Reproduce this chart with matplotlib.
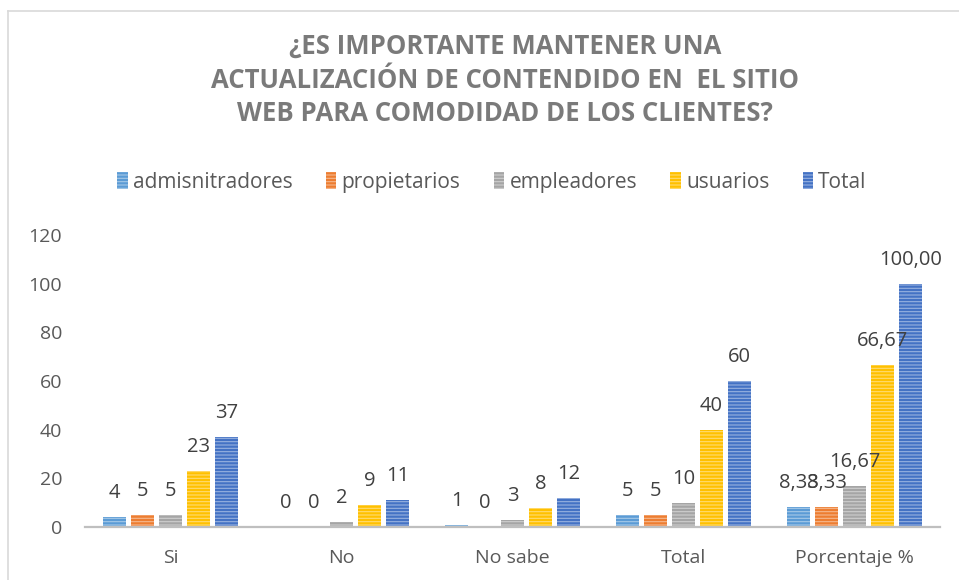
import matplotlib
matplotlib.use("Agg")
import matplotlib.pyplot as plt
import numpy as np
from matplotlib.patches import Patch
from matplotlib.lines import Line2D
from matplotlib.colors import to_rgb

plt.rcParams['font.family'] = ['Open Sans', 'DejaVu Sans']
plt.rcParams['hatch.linewidth'] = 0.8

categories = ["Si", "No", "No sabe", "Total", "Porcentaje %"]
series_names = ["admisnitradores", "propietarios", "empleadores", "usuarios", "Total"]
admin = [4, 0, 1, 5, 8.33]
propietarios = [5, 0, 0, 5, 8.33]
empleadores = [5, 2, 3, 10, 16.67]
usuarios = [23, 9, 8, 40, 66.67]
total = [37, 11, 12, 60, 100.00]
colors = ["#5B9BD5", "#ED7D31", "#A5A5A5", "#FFC000", "#4472C4"]
title = ("¿ES IMPORTANTE MANTENER UNA\n"
         "ACTUALIZACIÓN DE CONTENDIDO EN  EL SITIO\n"
         "WEB PARA COMODIDAD DE LOS CLIENTES?")

series = [admin, propietarios, empleadores, usuarios, total]


def lighten(c, f=0.45):
    r, g, b = to_rgb(c)
    return (r + (1 - r) * f, g + (1 - g) * f, b + (1 - b) * f)


fig = plt.figure(figsize=(9.59, 5.80), dpi=100)
ax = fig.add_axes([85 / 959, 53 / 580, 855 / 959, 292 / 580])

x = np.arange(len(categories))
step = 0.1637
width = 0.137
for i, (vals, col) in enumerate(zip(series, colors)):
    pos = x + (i - 2) * step
    ax.bar(pos, vals, width, color=col, edgecolor=lighten(col), linewidth=0,
           hatch='-----', zorder=2)
    for j, (px, v) in enumerate(zip(pos, vals)):
        if j == len(categories) - 1:
            lab = f"{v:.2f}".replace(".", ",")
        else:
            lab = f"{v:g}"
        ax.annotate(lab, (px, v), xytext=(0, 24), textcoords='offset pixels',
                    ha='center', va='center', fontsize=14.5, color='#404040')

ax.set_xlim(-0.5, len(categories) - 0.5)
ax.set_ylim(0, 120)
ax.set_yticks(np.arange(0, 121, 20))
ax.set_xticks(x)
ax.set_xticklabels(categories)
ax.tick_params(axis='y', length=0, pad=16.5, labelsize=14, labelcolor='#595959')
ax.tick_params(axis='x', length=0, pad=16, labelsize=14, labelcolor='#595959')
for s in ['top', 'right', 'left']:
    ax.spines[s].set_visible(False)
ax.spines['bottom'].set_color('#BFBFBF')
ax.spines['bottom'].set_linewidth(1.6)
ax.spines['bottom'].set_zorder(3)
ax.patch.set_alpha(0)

fig.text(505 / 959, 1 - 80 / 580, title, ha='center', va='center',
         fontsize=18.5, fontweight='bold', color='#7A7A7A', linespacing=1.33)

handles = [Patch(facecolor=c, edgecolor=lighten(c), linewidth=0, hatch='-----')
           for c in colors]
fig.legend(handles, series_names, loc='center', bbox_to_anchor=(492 / 959, 1 - 182 / 580),
           ncol=5, frameon=False, fontsize=15, labelcolor='#595959',
           handlelength=0.5, handleheight=0.9, handletextpad=0.25, columnspacing=1.6)

# chart area border (cropped at right and bottom)
fig.add_artist(Line2D([8 / 959, 8 / 959], [0, 1 - 11 / 580], color='#D9D9D9', lw=1.2))
fig.add_artist(Line2D([8 / 959, 1], [1 - 11 / 580, 1 - 11 / 580], color='#D9D9D9', lw=1.2))

fig.savefig("out.png", dpi=100)
